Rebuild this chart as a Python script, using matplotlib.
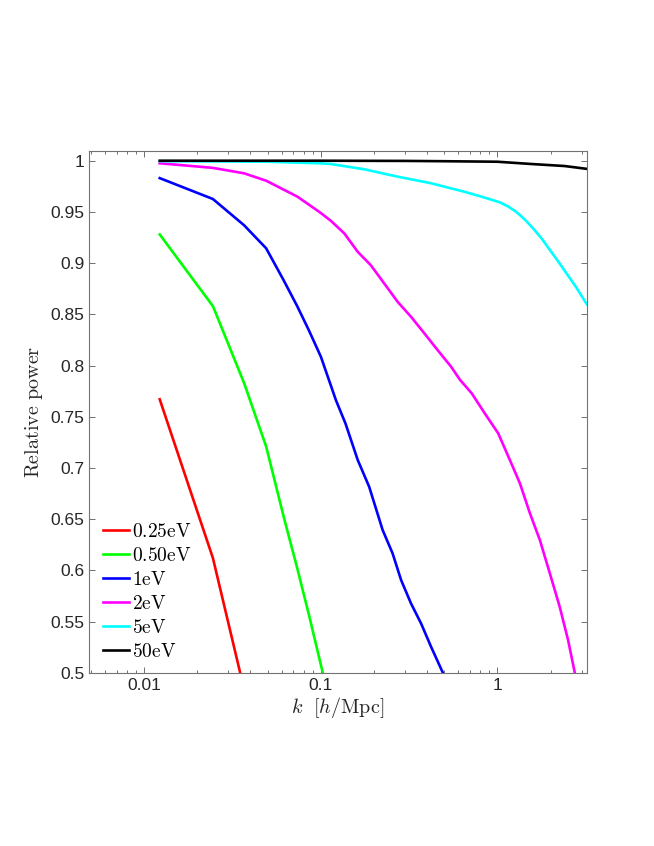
import numpy as np
import matplotlib
matplotlib.use("Agg")
import matplotlib.pyplot as plt
from matplotlib.ticker import FixedLocator, LogLocator, NullFormatter

# valores
k_red = [0.01227, 0.02454, 0.03682]
p_red = [0.767, 0.612, 0.484]

k_green = [0.01227, 0.02454, 0.03682, 0.04909, 0.06136, 0.07363, 0.0859, 0.09817, 0.1104]
p_green = [0.928, 0.858, 0.783, 0.721, 0.654, 0.602, 0.556, 0.514, 0.478]

k_blue = [0.01227, 0.02454, 0.03682, 0.04909, 0.06136, 0.0736, 0.0859, 0.1002, 0.122,
          0.138, 0.162, 0.188, 0.224, 0.255, 0.285, 0.324, 0.370, 0.421, 0.491, 0.55]
p_blue = [0.983, 0.9626, 0.937, 0.9145, 0.884, 0.858, 0.834, 0.8086, 0.766,
          0.7435, 0.7077, 0.6816, 0.6394, 0.6166, 0.5905, 0.5678, 0.548, 0.5254, 0.5, 0.478]

k_mag = [0.01227, 0.02454, 0.03682, 0.04909, 0.0736, 0.0982, 0.114, 0.136, 0.162, 0.192,
         0.229, 0.273, 0.324, 0.386, 0.459, 0.547, 0.614, 0.715, 0.85, 1.01, 1.176, 1.34,
         1.527, 1.738, 1.98, 2.25, 2.51, 2.74, 2.95]
p_mag = [0.9975, 0.993, 0.9877, 0.9805, 0.965, 0.950, 0.9414, 0.929, 0.911, 0.898,
         0.880, 0.862, 0.8477, 0.8314, 0.815, 0.7988, 0.786, 0.7729, 0.753, 0.7338, 0.7077, 0.685,
         0.6557, 0.6296, 0.597, 0.5645, 0.532, 0.5, 0.47]

k_cyan = [0.01227, 0.02454, 0.04909, 0.0982, 0.114, 0.1766, 0.273, 0.421, 0.65, 0.809,
          1.03, 1.15, 1.28, 1.43, 1.59, 1.78, 1.98, 2.2, 2.46, 2.8, 3.2]
p_cyan = [0.9995, 0.9993, 0.999, 0.9975, 0.9968, 0.9916, 0.9844, 0.978, 0.9697, 0.965,
          0.9594, 0.9553, 0.950, 0.9425, 0.934, 0.924, 0.9128, 0.902, 0.890, 0.876, 0.860]

k_black = [0.01227, 0.1, 0.3, 0.5, 1.0, 1.55, 2.4, 3.25]
p_black = [1.0, 1.0, 0.9998, 0.9995, 0.999, 0.9968, 0.9948, 0.9919]

series = [
    (k_red, p_red, "#ff0000", r"$\mathrm{0.25eV}$"),
    (k_green, p_green, "#00ff00", r"$\mathrm{0.50eV}$"),
    (k_blue, p_blue, "#0000ff", r"$\mathrm{1eV}$"),
    (k_mag, p_mag, "#ff00ff", r"$\mathrm{2eV}$"),
    (k_cyan, p_cyan, "#00ffff", r"$\mathrm{5eV}$"),
    (k_black, p_black, "#000000", r"$\mathrm{50eV}$"),
]

y_ticks = [0.5, 0.55, 0.6, 0.65, 0.7, 0.75, 0.8, 0.85, 0.9, 0.95, 1.0]
y_labels = ["0.5", "0.55", "0.6", "0.65", "0.7", "0.75", "0.8", "0.85", "0.9", "0.95", "1"]
x_ticks = [0.01, 0.1, 1]
x_labels = ["0.01", "0.1", "1"]

plt.rcParams["font.family"] = ["Liberation Sans", "DejaVu Sans"]
plt.rcParams["mathtext.fontset"] = "cm"

fig = plt.figure(figsize=(6.54, 8.46), dpi=100)
ax = fig.add_axes([0.1365, 0.2048, 0.7606, 0.6171])

for k, p, cor, nome in series:
    ax.plot(k, p, color=cor, lw=1.9, label=nome)

ax.set_xscale("log")
ax.set_xlim(0.0049, 3.2)
ax.set_ylim(0.5, 1.0098)

ax.xaxis.set_major_locator(FixedLocator(x_ticks))
ax.set_xticklabels(x_labels)
ax.xaxis.set_minor_locator(LogLocator(base=10, subs=np.arange(2, 10)))
ax.xaxis.set_minor_formatter(NullFormatter())
ax.set_yticks(y_ticks)
ax.set_yticklabels(y_labels)

ax.tick_params(which="both", direction="in", top=True, right=True,
               colors="0.35", labelcolor="#262626", labelsize=12.5)
ax.tick_params(which="major", length=4, width=0.6)
ax.tick_params(which="minor", length=2.2, width=0.6)
for s in ax.spines.values():
    s.set_color("0.45")
    s.set_linewidth(0.8)

ax.set_xlabel(r"$k\ \ [h/\mathrm{Mpc}]$", fontsize=14.5, color="#262626", labelpad=2)
ax.set_ylabel(r"$\mathrm{Relative\ power}$", fontsize=14.5, color="#262626", labelpad=4)

ax.legend(loc="lower left", bbox_to_anchor=(0.005, 0.0), frameon=False, fontsize=14,
          handlelength=1.3, handletextpad=0.15, labelspacing=0.31, borderaxespad=0.2)

fig.savefig("out.png", dpi=100)
